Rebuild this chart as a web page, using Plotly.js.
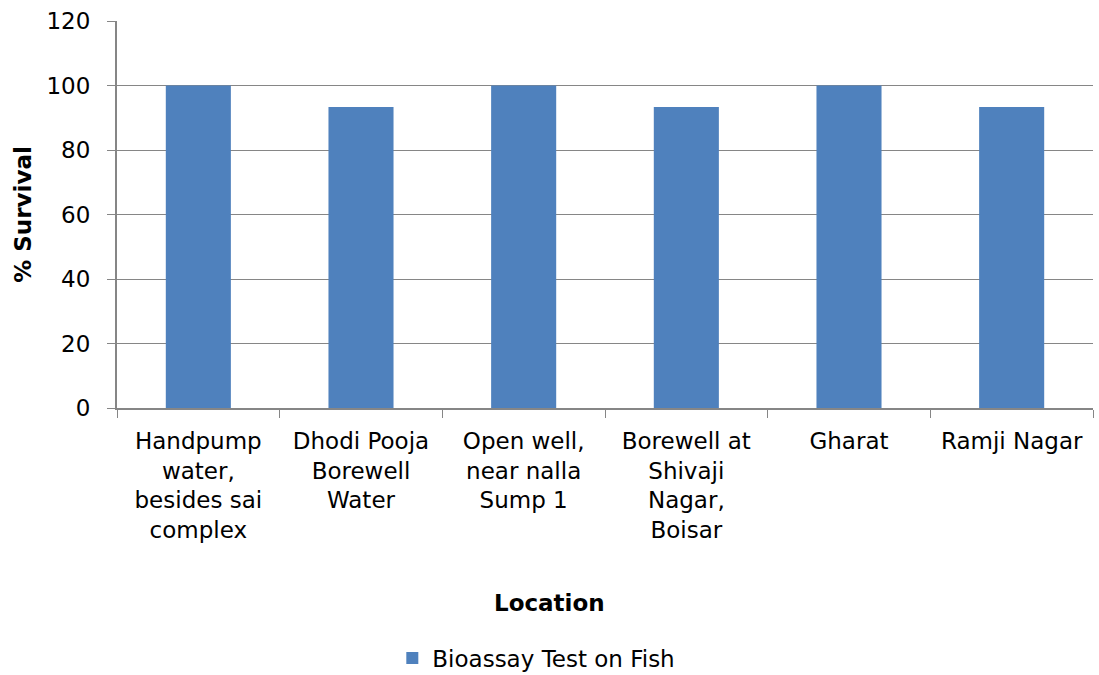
<!DOCTYPE html>
<html><head><meta charset="utf-8">
<script src="https://cdn.plot.ly/plotly-3.0.1.min.js"></script>
<style>body{margin:0;}#c{width:1099px;height:675px;}</style>
</head><body><div id="c"></div>
<script>
const categories = [
  "Handpump<br>water,<br>besides sai<br>complex",
  "Dhodi Pooja<br>Borewell<br>Water",
  "Open well,<br>near nalla<br>Sump 1",
  "Borewell at<br>Shivaji<br>Nagar,<br>Boisar",
  "Gharat",
  "Ramji Nagar"
];
const survival = [100, 93.33, 100, 93.33, 100, 93.33];
const seriesName = "Bioassay Test on Fish";
const yTicks = [0, 20, 40, 60, 80, 100, 120];

const font = {family: "Verdana, 'DejaVu Sans', sans-serif", size: 23, color: "#000"};
Plotly.newPlot("c", [{
  type: "bar", x: categories, y: survival, name: seriesName,
  marker: {color: "#4F81BD"}, width: 0.4, showlegend: true
}], {
  width: 1099, height: 675,
  margin: {l: 117, r: 6, t: 21, b: 267},
  paper_bgcolor: "#fff", plot_bgcolor: "#fff",
  font: font,
  showlegend: true,
  xaxis: {
    type: "category", tickson: "boundaries", ticks: "outside", ticklen: 8,
    tickcolor: "#868686", showline: true, linecolor: "#868686", linewidth: 2,
    showgrid: false, tickfont: font, tickangle: 0, ticklabelstandoff: 11
  },
  yaxis: {
    range: [0, 120], tickvals: yTicks, ticks: "outside", ticklen: 8,
    tickcolor: "#868686", showline: true, linecolor: "#868686", linewidth: 2,
    gridcolor: "#868686", gridwidth: 1, zeroline: false, tickfont: font,
    ticklabelstandoff: 12,
    title: {text: "<b>% Survival</b>", font: font, standoff: 8}
  },
  annotations: [{
    text: "<b>Location</b>", xref: "paper", x: (549 - 117) / 976, xanchor: "center",
    yref: "paper", y: -(603 - 408) / 387, yanchor: "middle", showarrow: false, font: font
  }],
  legend: {orientation: "h", x: 0.488, xanchor: "center", xref: "container", y: 0.025, yref: "container", yanchor: "middle", font: font},
  bargap: 0.6
}, {displayModeBar: false, staticPlot: true});
</script></body></html>
